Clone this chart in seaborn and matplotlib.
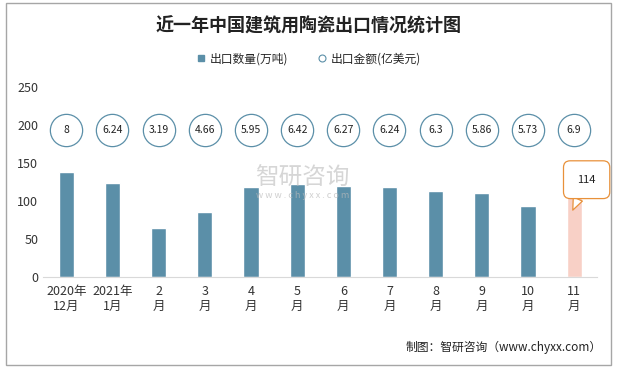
import matplotlib.pyplot as plt
from matplotlib.lines import Line2D
import pandas as pd
import seaborn as sns

sns.set_style("white")
plt.rcParams["font.family"] = ["Noto Sans CJK SC", "DejaVu Sans"]

BAR = "#5B8FA8"
PINK = "#F8D0C6"
ORANGE = "#E8913A"

months = ["2020年\n12月", "2021年\n1月", "2\n月", "3\n月", "4\n月", "5\n月",
          "6\n月", "7\n月", "8\n月", "9\n月", "10\n月", "11\n月"]
volume = [138, 123, 65, 86, 118, 122, 120, 118, 113, 110, 94, 114]
amount = [8, 6.24, 3.19, 4.66, 5.95, 6.42, 6.27, 6.24, 6.3, 5.86, 5.73, 6.9]
circle_level = 193

df = pd.DataFrame({"month": months, "volume": volume, "amount": amount})
colors = [BAR] * (len(months) - 1) + [PINK]

fig = plt.figure(figsize=(6.17, 3.68), dpi=100)
ax = fig.add_axes([0.070, 0.247, 0.898, 0.517])

sns.barplot(data=df, x="month", y="volume", hue="month", palette=colors,
            legend=False, width=0.33, saturation=1, ax=ax)

# export value circles
ax.scatter(range(len(months)), [circle_level] * len(months), s=540,
           facecolor="white", edgecolor=BAR, linewidth=0.9, zorder=3)
for i, v in enumerate(amount):
    ax.text(i, circle_level, f"{v:g}", ha="center", va="center", fontsize=7.5,
            color="#222222", zorder=4)

# callout for the latest month
ax.annotate(f"{volume[-1]}", xy=(len(months) - 1.03, 88),
            xytext=(len(months) - 0.73, 128), ha="center", va="center",
            fontsize=8, color="#222222", annotation_clip=False,
            bbox=dict(boxstyle="round,pad=1.25,rounding_size=0.6", fc="white",
                      ec=ORANGE, lw=0.9),
            arrowprops=dict(arrowstyle="wedge,tail_width=0.9", fc="white",
                            ec=ORANGE, lw=0.9, shrinkA=0, shrinkB=0))

ax.set_ylim(0, 250)
ax.set_yticks([0, 50, 100, 150, 200, 250])
ax.set_xlim(-0.5, len(months) - 0.5)
ax.set_xlabel("")
ax.set_ylabel("")
ax.tick_params(axis="both", labelsize=9, colors="#333333", length=0)
ax.tick_params(axis="x", pad=6)
ax.spines[["top", "right", "left"]].set_visible(False)
ax.spines["bottom"].set_color("#D9D9D9")

# watermark
fig.text(0.49, 0.515, "智研咨询", fontsize=17, color="#BBBBBB", alpha=0.6,
         ha="center", va="center")
fig.text(0.49, 0.468, "w w w . c h y x x . c o m", fontsize=6.5, color="#BBBBBB",
         alpha=0.7, ha="center", va="center")

fig.text(0.5, 0.93, "近一年中国建筑用陶瓷出口情况统计图", fontsize=13,
         fontweight="bold", ha="center", va="center", color="#222222")

handles = [
    Line2D([], [], marker="s", linestyle="", markersize=5, color=BAR),
    Line2D([], [], marker="o", linestyle="", markersize=5, markerfacecolor="white",
           markeredgecolor=BAR, markeredgewidth=0.8),
]
fig.legend(handles, ["出口数量(万吨)", "出口金额(亿美元)"], loc="center",
           bbox_to_anchor=(0.5, 0.84), ncol=2, frameon=False, fontsize=8.5,
           handlelength=0.8, handletextpad=0.3, columnspacing=2.5)

fig.text(0.975, 0.055, "制图：智研咨询（www.chyxx.com）", fontsize=8.5,
         ha="right", va="center", color="#222222")

fig.patches.append(plt.Rectangle((0.01, 0.008), 0.98, 0.984, transform=fig.transFigure,
                                 fill=False, edgecolor="#A6A6A6", linewidth=1))

fig.savefig("out.png", dpi=100)
